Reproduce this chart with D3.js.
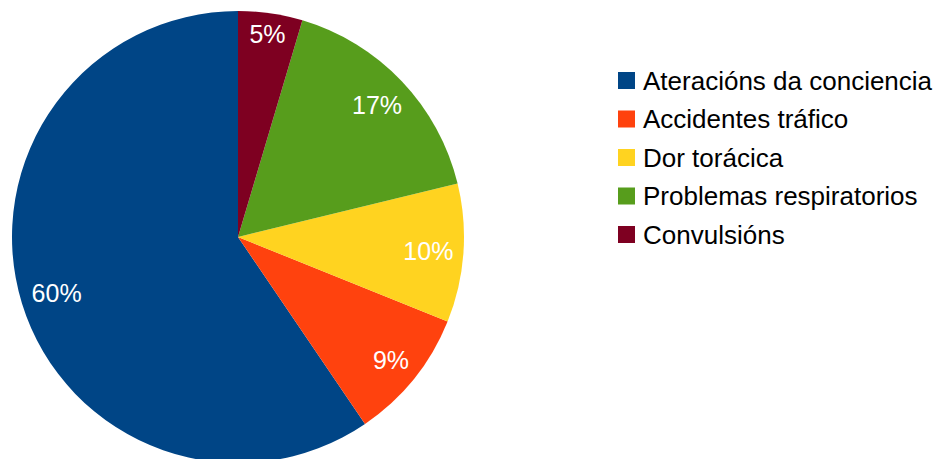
<!DOCTYPE html>
<html>
<head>
<meta charset="utf-8">
<script src="https://cdn.jsdelivr.net/npm/d3@7"></script>
<style>
  body { margin: 0; background: #fff; }
  text { font-family: "Liberation Sans", Arial, sans-serif; }
</style>
</head>
<body>
<script>
// categorias e valores (porcentaxes)
var categorias = ["Ateracións da conciencia", "Accidentes tráfico", "Dor torácica", "Problemas respiratorios", "Convulsións"]
var valores = [59.5, 9.4, 9.9, 16.6, 4.6]
var cores = ["#004586", "#ff420e", "#ffd320", "#579d1c", "#7e0021"]

var width = 943
var height = 459
var radio = 226
var cx = 238, cy = 237

var datos = categorias.map(function(c, i) { return {nome: c, valor: valores[i]} })

var svg = d3.select("body")
    .append("svg")
        .attr("width", width)
        .attr("height", height)

var g = svg.append("g")
    .attr("transform", "translate(" + cx + "," + cy + ")")

var color = d3.scaleOrdinal()
    .domain(categorias)
    .range(cores)

// sentido antihorario desde arriba, como en LibreOffice
var pie = d3.pie()
    .sort(null)
    .value(d => d.valor)
    .startAngle(0)
    .endAngle(-2 * Math.PI)

var arco = d3.arc()
    .innerRadius(0)
    .outerRadius(radio)

var total = d3.sum(valores)

g.selectAll("path")
    .data(pie(datos))
    .enter()
    .append("path")
        .attr("d", arco)
        .attr("fill", d => color(d.data.nome))

// etiquetas dentro da porción, pegadas ao bordo exterior
var etiquetas = g.selectAll("text")
    .data(pie(datos))
    .enter()
    .append("text")
        .attr("text-anchor", "middle")
        .attr("dy", "0.35em")
        .attr("fill", "white")
        .style("font-size", "25px")
        .text(d => Math.round(d.data.valor / total * 100) + "%")

etiquetas.attr("transform", function(d) {
    var a = (d.startAngle + d.endAngle) / 2
    var w = this.getBBox().width
    var h = 19
    var ext = w / 2 * Math.abs(Math.sin(a)) + h / 2 * Math.abs(Math.cos(a))
    var r = radio - 9.5 - ext
    return "translate(" + (Math.sin(a) * r) + "," + (-Math.cos(a) * r) + ")"
})

// lenda
var lenda = svg.append("g")
    .attr("transform", "translate(618,72)")

var fila = lenda.selectAll("g")
    .data(categorias)
    .enter()
    .append("g")
        .attr("transform", (d, i) => "translate(0," + (i * 38.5) + ")")

fila.append("rect")
    .attr("width", 17)
    .attr("height", 17)
    .attr("fill", d => color(d))

fila.append("text")
    .attr("x", 25)
    .attr("y", 8.5)
    .attr("dy", "0.35em")
    .attr("fill", "#000")
    .style("font-size", "26px")
    .text(d => d)
</script>
</body>
</html>
